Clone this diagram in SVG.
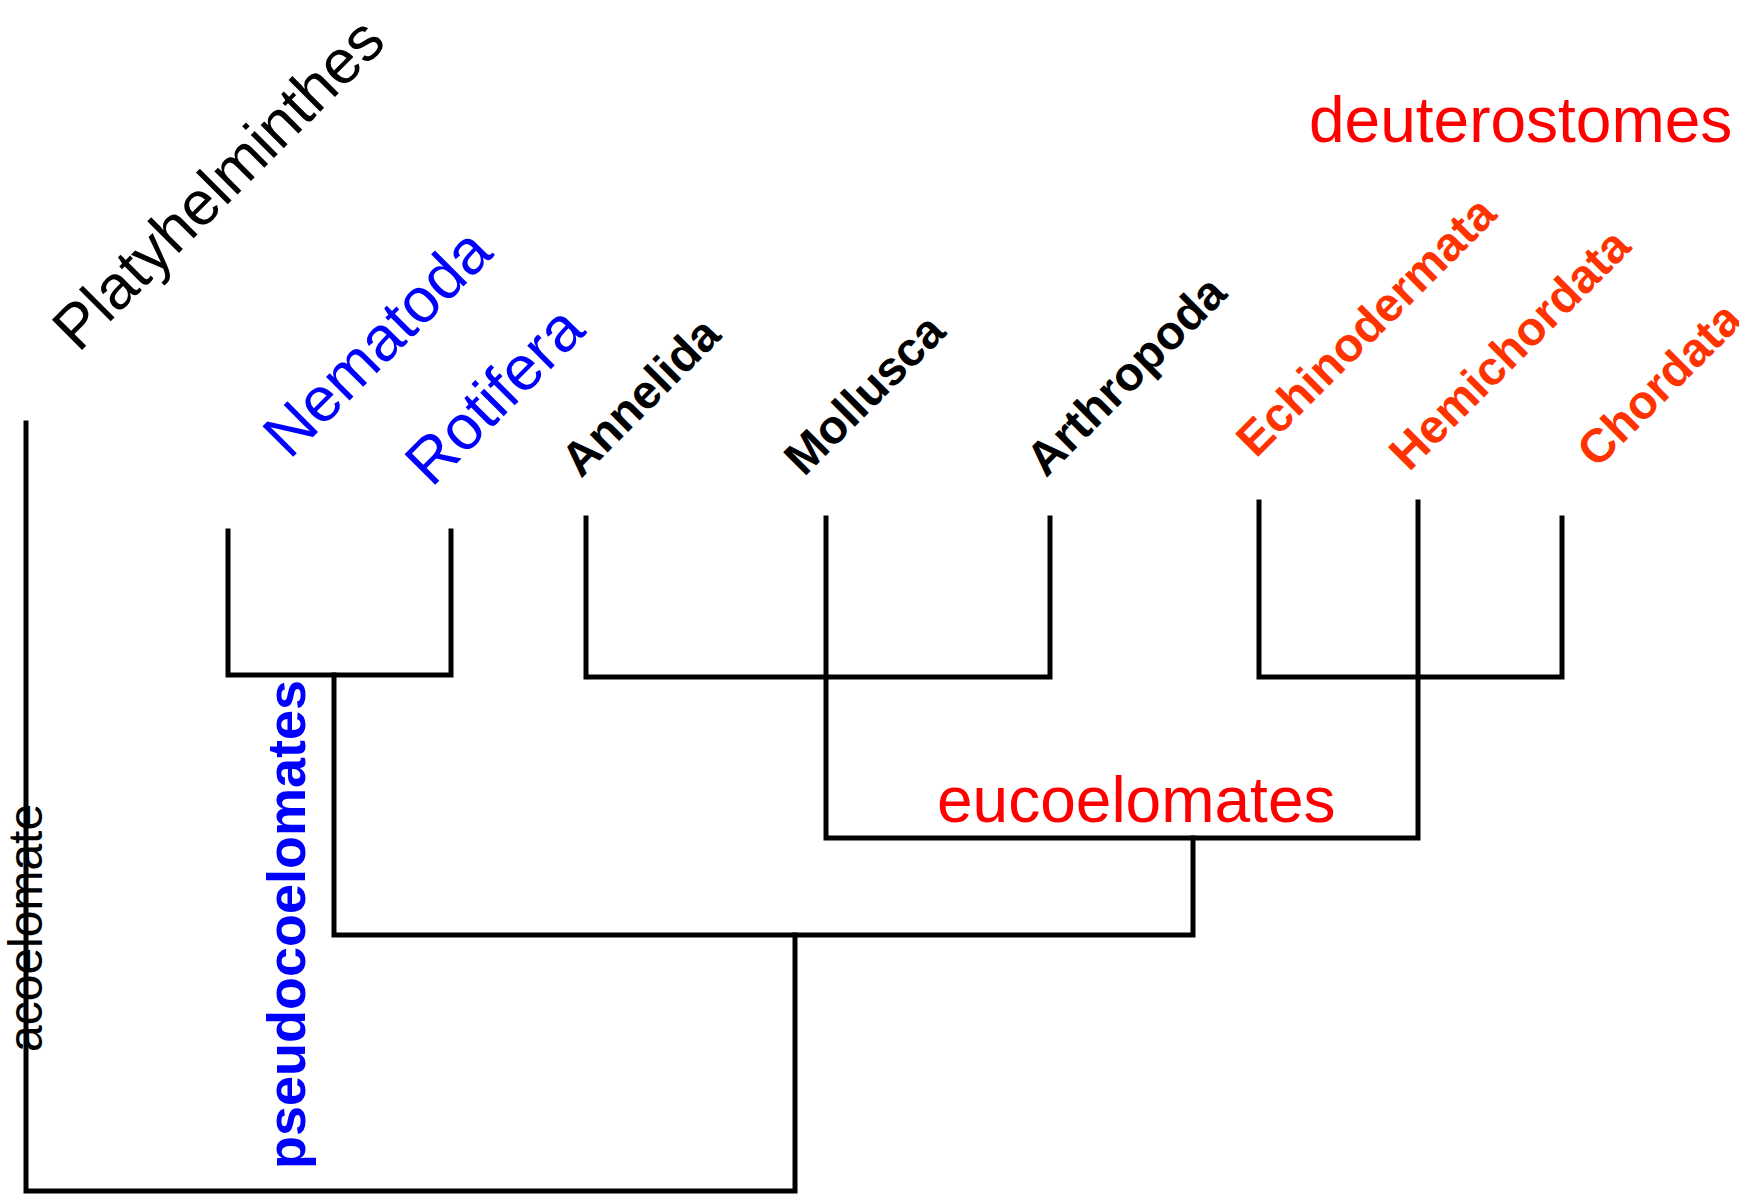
<svg xmlns="http://www.w3.org/2000/svg" width="1739" height="1198" viewBox="0 0 1739 1198">
<style>
text{font-family:"Liberation Sans",Arial,Helvetica,sans-serif}
.reg{font-size:63px}
.bold{font-size:47.5px;font-weight:bold}
.blk{fill:#000}
.blue{fill:#0000ff}
.red{fill:#ff0000}
.org{fill:#ff3300}
.ln{fill:none;stroke:#000;stroke-width:5;stroke-linejoin:miter;stroke-linecap:square}
</style>
<rect width="1739" height="1198" fill="#fff"/>
<g id="connectors">
<polyline class="ln" points="26,423 26,1191 795,1191 795,935"/>
<polyline class="ln" points="334,675 334,935 1193,935 1193,838"/>
<polyline class="ln" points="228,531 228,675 451,675 451,531"/>
<polyline class="ln" points="826,518 826,838 1418,838 1418,502"/>
<polyline class="ln" points="586,518 586,677 1050,677 1050,518"/>
<polyline class="ln" points="1259,502 1259,677 1562,677 1562,518"/>
</g>
<g id="platyhelminthes"><text class="reg blk" style="font-size:62px" transform="translate(78.5,353.5) rotate(-45)">Platyhelminthes</text></g>
<g id="nematoda"><text class="reg blue" transform="translate(289.5,460.5) rotate(-45)">Nematoda</text></g>
<g id="rotifera"><text class="reg blue" transform="translate(431.5,488.5) rotate(-45)">Rotifera</text></g>
<g id="annelida"><text class="bold blk" transform="translate(581,479) rotate(-45)">Annelida</text></g>
<g id="mollusca"><text class="bold blk" transform="translate(804,477.5) rotate(-45)">Mollusca</text></g>
<g id="arthropoda"><text class="bold blk" transform="translate(1046,478.5) rotate(-45)">Arthropoda</text></g>
<g id="echinodermata"><text class="bold org" transform="translate(1256,459) rotate(-45)">Echinodermata</text></g>
<g id="hemichordata"><text class="bold org" transform="translate(1409,472.5) rotate(-45)">Hemichordata</text></g>
<g id="chordata"><text class="bold org" transform="translate(1597,469.5) rotate(-45)">Chordata</text></g>
<g id="deuterostomes"><text class="red" style="font-size:64px" x="1309" y="142">deuterostomes</text></g>
<g id="eucoelomates"><text class="red" style="font-size:64px" x="937" y="822">eucoelomates</text></g>
<g id="acoelomate"><text class="blk" style="font-size:48px" transform="translate(42,1052) rotate(-90)">acoelomate</text></g>
<g id="pseudocoelomates"><text class="blue" style="font-size:54px;font-weight:bold" transform="translate(305,1169) rotate(-90)">pseudocoelomates</text></g>
</svg>
